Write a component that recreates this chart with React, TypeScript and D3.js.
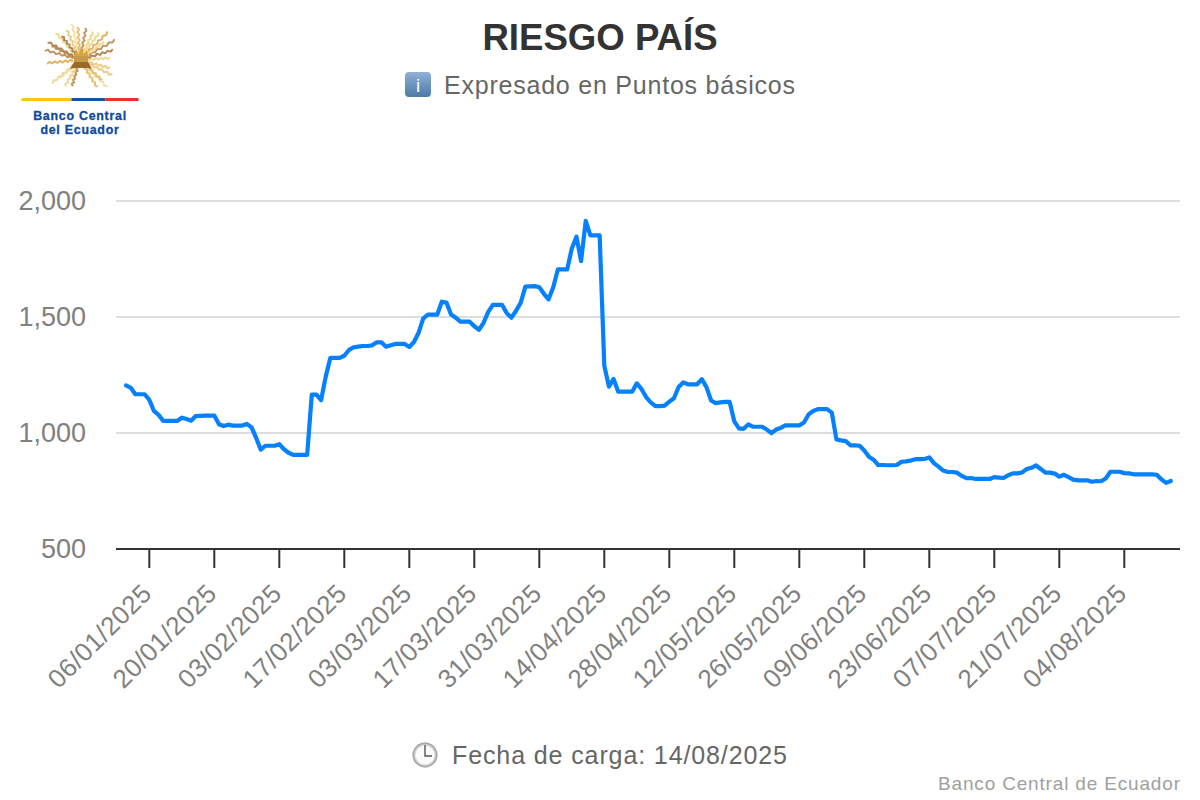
import React from "react";
import * as d3 from "d3";

const startDate = "2025-01-01";
const riesgo = [
  1205,1195,1167,1167,1167,1143,1095,1078,1052,1052,1052,1052,1066,1060,1053,1073,1074,1075,1075,1075,
  1038,1030,1036,1032,1032,1032,1039,1025,980,928,945,945,945,952,930,915,906,906,906,906,
  1166,1165,1142,1243,1324,1324,1324,1333,1358,1369,1372,1375,1375,1378,1391,1391,1372,1378,1384,1384,
  1384,1371,1392,1432,1494,1510,1510,1510,1566,1562,1511,1497,1480,1480,1480,1460,1445,1475,1522,1552,
  1552,1552,1516,1497,1527,1562,1631,1632,1633,1628,1600,1576,1628,1705,1705,1705,1795,1846,1741,1914,
  1852,1852,1852,1290,1200,1233,1178,1178,1178,1178,1214,1190,1155,1132,1116,1116,1118,1135,1150,1198,
  1218,1210,1210,1210,1232,1198,1140,1129,1132,1134,1134,1050,1020,1018,1037,1027,1027,1027,1015,999,
  1015,1022,1033,1033,1033,1033,1045,1080,1095,1103,1103,1103,1088,972,968,965,947,947,945,925,
  898,885,862,862,861,861,862,876,878,881,887,887,888,895,870,855,838,832,832,829,
  815,805,806,802,802,802,802,810,808,806,818,826,826,830,845,850,860,845,829,829,
  825,812,820,810,799,796,796,796,790,793,792,804,833,833,833,827,826,822,822,822,
  822,822,820,800,785,793,
];
const tickDates = [
  "2025-01-06","2025-01-20","2025-02-03","2025-02-17","2025-03-03","2025-03-17","2025-03-31","2025-04-14",
  "2025-04-28","2025-05-12","2025-05-26","2025-06-09","2025-06-23","2025-07-07","2025-07-21","2025-08-04",
];
const yTicks = [500, 1000, 1500, 2000];
const titleText = "RIESGO PAÍS";
const subtitleText = "Expresado en Puntos básicos";
const loadText = "Fecha de carga: 14/08/2025";
const creditText = "Banco Central de Ecuador";
const logoLines = ["Banco Central", "del Ecuador"];
// emblem ray tips, offsets from the emblem's centre
const rayTipX = [-35,-32,-24,-13,-8,-2,6,13,19,28,35,33,30,32,27,17,-8,-15,-28,-33,-28,-18,24,30,-20,22];
const rayTipY = [-10,-18,-27,-30,-36,-33,-32,-28,-27,-28,-20,-10,-2,15,27,27,26,26,23,3,-14,-24,-18,8,18,20];
const rayColors = ["#b8864a","#a9793f","#f0d488","#e9c878","#f3dc9a","#e2b964","#b98a4a","#efd184","#f0d488","#d9a94e"];

const DAY = 86400000;
const parse = (s: string) => new Date(s + "T00:00:00Z");
const fmt = d3.utcFormat("%d/%m/%Y");
const FONT = "'Liberation Sans', Arial, sans-serif";

function Logo() {
  const cx = 80, cy = 60;
  const rays = rayTipX.map((tx, i) => {
    const ty = rayTipY[i], L = Math.hypot(tx, ty), n = [tx / L, ty / L], p = [-n[1], n[0]];
    const pts: [number, number][] = d3.range(0, 11).map((k) => {
      const t = k / 10, d = 7 + t * (L - 7), w = (k % 2 ? 1 : -1) * 0.9;
      return [cx + n[0] * d + p[0] * w, cy + n[1] * d + p[1] * w];
    });
    return { d: d3.line()(pts)!, c: rayColors[i % rayColors.length] };
  });
  return (
    <g>
      {rays.map((r, i) => (
        <path key={i} d={r.d} fill="none" stroke={r.c} strokeWidth={1.9} opacity={0.9} />
      ))}
      <rect x={74} y={56} width={14} height={6} fill="#c79a4a" />
      <path d="M74 62 H88 L92 69 L88 68 H74 L70 69Z" fill="#9a6a2c" />
      <path d="M74 56 L76 50 L79 54 L81 48 L84 54 L87 50 L88 56Z" fill="#d7a445" />
      <rect x={21.5} y={98} width={50} height={3} fill="#f9c80e" />
      <rect x={71.5} y={98} width={34} height={3} fill="#1d4e9f" />
      <rect x={105.5} y={98} width={33} height={3} fill="#e5322d" />
      {logoLines.map((t, i) => (
        <text key={t} x={80} y={119.5 + i * 14.5} textAnchor="middle" fontFamily={FONT} fontWeight={700} fontSize={12.4} letterSpacing={0.75} stroke="#0f4a9c" strokeWidth={0.3} fill="#0f4a9c">{t}</text>
      ))}
    </g>
  );
}

export default function App() {
  const start = parse(startDate);
  const dates = riesgo.map((_, i) => new Date(start.getTime() + i * DAY));
  const x = d3.scaleUtc().domain([parse(tickDates[0]), parse(tickDates[15])]).range([149.3, 1124.3]);
  const y = d3.scaleLinear().domain([500, 2000]).range([549, 201]);
  const line = d3.line<number>().x((_, i) => x(dates[i])).y((d) => y(d)).curve(d3.curveLinear);
  return (
    <svg width={1200} height={800} style={{ position: "absolute", left: 0, top: 0, background: "#fff" }} fontFamily={FONT}>
      <defs>
        <linearGradient id="info" x1="0" y1="0" x2="0" y2="1">
          <stop offset="0" stopColor="#8fb1d4" />
          <stop offset="1" stopColor="#4b7aa8" />
        </linearGradient>
        <radialGradient id="clock" cx="0.5" cy="0.5" r="0.5">
          <stop offset="0.7" stopColor="#fbfbfb" />
          <stop offset="1" stopColor="#8e8e94" />
        </radialGradient>
      </defs>
      <Logo />
      <text x={600} y={50} textAnchor="middle" fontSize={36.6} fontWeight={700} fill="#333">{titleText}</text>
      <rect x={405} y={72} width={26} height={25} rx={4} fill="url(#info)" />
      <text x={418} y={92} textAnchor="middle" fontSize={19} fill="#fff">i</text>
      <text x={444} y={94} fontSize={25} fill="#666" textLength={351}>{subtitleText}</text>

      {yTicks.map((t) => (
        <g key={t}>
          <line x1={116} x2={1180} y1={y(t)} y2={y(t)} stroke={t === 500 ? "#333" : "#dcdde0"} strokeWidth={2} />
          <text x={86} y={y(t) + 9} textAnchor="end" fontSize={27} fill="#808080">{d3.format(",")(t)}</text>
        </g>
      ))}
      {tickDates.map((t) => {
        const px = x(parse(t));
        return (
          <g key={t}>
            <line x1={px} x2={px} y1={549} y2={568} stroke="#333" strokeWidth={2} />
            <text transform={`translate(${px + 4},${595}) rotate(-45)`} textAnchor="end" fontSize={26} letterSpacing={0.4} fill="#808080">{fmt(parse(t))}</text>
          </g>
        );
      })}
      <path d={line(riesgo)!} fill="none" stroke="#0580ff" strokeWidth={4.2} strokeLinejoin="round" strokeLinecap="round" />

      <circle cx={425} cy={755} r={12.5} fill="url(#clock)" />
      <path d="M425 745 V756 H432" fill="none" stroke="#555" strokeWidth={1.4} />
      <text x={452} y={764} fontSize={25} fill="#666" textLength={335}>{loadText}</text>
      <text x={938} y={790} fontSize={19} fill="#a0a0a0" textLength={242}>{creditText}</text>
    </svg>
  );
}
